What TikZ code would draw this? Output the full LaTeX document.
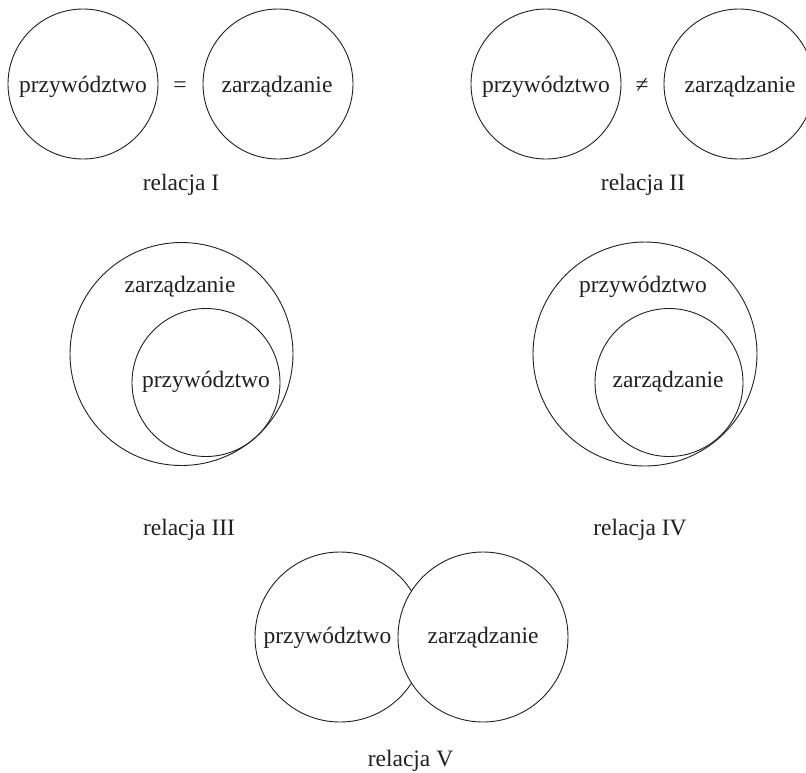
\documentclass[tikz,border=0pt]{standalone}
\usepackage{fontspec}
\setmainfont{Liberation Serif}
\definecolor{ink}{HTML}{231F20}
\begin{document}
\begin{tikzpicture}[x=1pt,y=-1pt,
  ring/.style={circle,draw=ink,line width=0.9pt,inner sep=0pt},
  lbl/.style={font=\fontsize{23.5}{28}\selectfont,text=ink,inner sep=0pt,anchor=base}]
\useasboundingbox (0,0) rectangle (806,772);
% relacja I
\node[ring,minimum size=150pt] (a1) at (83,84) {};
\node[ring,minimum size=150pt] (b1) at (278,84) {};
\node[lbl] (ta1) at (83,92) {przywództwo};
\node[lbl] (tb1) at (277,92) {zarządzanie};
\node[lbl] (eq) at (180,92) {=};
\node[lbl] (r1) at (181,190) {relacja I};
% relacja II
\node[ring,minimum size=150pt] (a2) at (546,84) {};
\node[ring,minimum size=150pt] (b2) at (739,84) {};
\node[lbl] (ta2) at (546,92) {przywództwo};
\node[lbl] (tb2) at (740,92) {zarządzanie};
\node[lbl] (neq) at (642,92) {≠};
\node[lbl] (r2) at (643,190) {relacja II};
% relacja III
\node[ring,minimum size=223pt] (o3) at (181.5,354) {};
\node[ring,minimum size=148pt] (i3) at (206,382.5) {};
\node[lbl] (to3) at (180,292) {zarządzanie};
\node[lbl] (ti3) at (206,387) {przywództwo};
\node[lbl] (r3) at (189,535) {relacja III};
% relacja IV
\node[ring,minimum size=224pt] (o4) at (645,354) {};
\node[ring,minimum size=148pt] (i4) at (669,382.5) {};
\node[lbl] (to4) at (643,292) {przywództwo};
\node[lbl] (ti4) at (668,387) {zarządzanie};
\node[lbl] (r4) at (640,535) {relacja IV};
% relacja V
\node[ring,minimum size=170pt] (a5) at (340,637) {};
\node[ring,fill=white,minimum size=170pt] (b5) at (483,637) {};
\node[lbl] (ta5) at (327.5,643) {przywództwo};
\node[lbl] (tb5) at (483,643) {zarządzanie};
\node[lbl] (r5) at (410.5,766) {relacja V};
\end{tikzpicture}
\end{document}
